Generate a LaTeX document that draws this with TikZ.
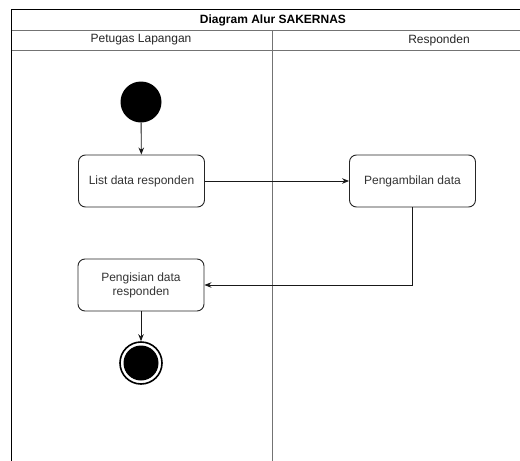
\documentclass[tikz,border=0pt]{standalone}
\usepackage{fontspec}
\setmainfont{Liberation Sans}
\usetikzlibrary{arrows.meta}
\begin{document}
\begin{tikzpicture}[x=1pt,y=-1pt,
  frame/.style={line width=1pt,draw=black},
  sep/.style={line width=1pt,draw=black!55},
  actbox/.style={draw=black!85,line width=0.9pt,rounded corners=7pt,minimum width=126pt,minimum height=52pt,align=center,font=\fontsize{12}{14}\selectfont,text=black!80,inner sep=0pt},
  conn/.style={line width=0.9pt,draw=black!90,-{Stealth[length=7pt,width=5.5pt]}},
  lane/.style={font=\fontsize{12}{14}\selectfont,text=black!85}]
\useasboundingbox (0,0) rectangle (520,461);
\fill[white] (0,0) rectangle (520,461);
% frame
\draw[frame] (11.5,461) -- (11.5,9.5) -- (521,9.5);
\draw[sep] (11.5,30) -- (521,30);
\draw[sep] (11.5,50) -- (521,50);
\draw[sep] (272,30) -- (272,461);
\node[font=\bfseries\fontsize{12}{14}\selectfont] (title) at (273,20) {Diagram Alur SAKERNAS};
\node[lane] (lane1) at (141,40) {Petugas Lapangan};
\node[lane] (lane2) at (439,40) {Responden};
% nodes
\node[circle,fill=black,minimum size=41pt,inner sep=0pt] (start) at (141,102) {};
\node[actbox] (list) at (141.5,181) {List data responden};
\node[actbox] (ambil) at (412.5,181) {Pengambilan data};
\node[actbox] (isi) at (141,285) {Pengisian data\\responden};
\node[circle,draw=black,line width=1.6pt,minimum size=42pt,inner sep=0pt,
      path picture={\fill[black] (path picture bounding box.center) circle (17.5pt);}] (end) at (141,363) {};
% connectors
\draw[conn] (start) -- (list);
\draw[conn] (list) -- (ambil);
\draw[conn] (ambil.south) |- (isi.east);
\draw[conn] (isi) -- (end);
\end{tikzpicture}
\end{document}
